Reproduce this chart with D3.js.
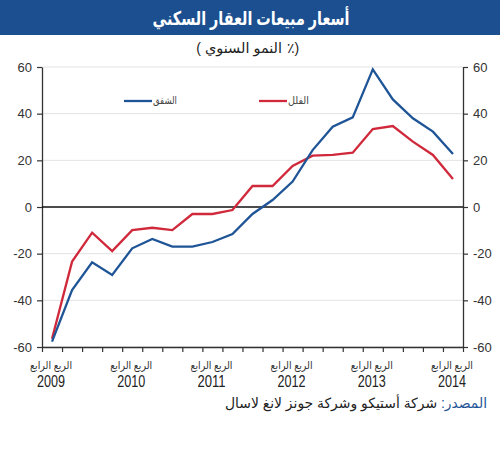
<!DOCTYPE html>
<html>
<head>
<meta charset="utf-8">
<script src="https://cdn.jsdelivr.net/npm/d3@7"></script>
<style>
  body { margin: 0; background: #fff; }
  svg { font-family: "Liberation Sans", Arial, "DejaVu Sans", sans-serif; direction: ltr; }
</style>
</head>
<body>
<svg width="500" height="450"></svg>
<script>
// quarterly data, Q4 2009 .. Q4 2014
const quarters = ["2009Q4", "2010Q1", "2010Q2", "2010Q3", "2010Q4", "2011Q1", "2011Q2",
  "2011Q3", "2011Q4", "2012Q1", "2012Q2", "2012Q3", "2012Q4", "2013Q1", "2013Q2",
  "2013Q3", "2013Q4", "2014Q1", "2014Q2", "2014Q3", "2014Q4"];
const apartments = [-57.7, -35.6, -23.7, -29.1, -17.7, -13.7, -17, -17, -15, -11.6, -3,
  3, 10.9, 24.4, 34.4, 38.4, 59, 46.1, 38, 32.3, 22.7];
const villas = [-56.5, -23.4, -11, -18.9, -9.9, -8.9, -9.9, -3, -3, -1.3, 9,
  9, 17.6, 22, 22.3, 23.3, 33.4, 34.7, 28, 22.3, 12];
const yTicks = [-60, -40, -20, 0, 20, 40, 60];
const yearLabels = ["2009", "2010", "2011", "2012", "2013", "2014"];
const quarterLabel = "الربع الرابع";

const svg = d3.select("svg");
const plotLeft = 42, plotRight = 463, plotTop = 67, plotBottom = 347;

const x = d3.scaleLinear().domain([0, quarters.length]).range([plotLeft, plotRight]);
const y = d3.scaleLinear().domain([-60, 60]).range([plotBottom, plotTop]);

// title bar
svg.append("rect").attr("x", 0).attr("y", 0).attr("width", 500).attr("height", 35)
  .attr("fill", "#1b4f8f");
svg.append("text").attr("x", 251).attr("y", 25).attr("text-anchor", "middle")
  .attr("fill", "#fff").attr("font-size", 19).attr("font-weight", "bold")
  .attr("textLength", 197).attr("lengthAdjust", "spacingAndGlyphs")
  .text("أسعار مبيعات العقار السكني");

// subtitle, split so the brackets sit the way they do in the original
const sub = svg.append("g").attr("fill", "#222").attr("font-size", 14);
sub.append("text").attr("x", 243.5).attr("y", 53).attr("text-anchor", "middle")
  .attr("textLength", 77).attr("lengthAdjust", "spacingAndGlyphs").text("النمو السنوي");
sub.append("text").attr("x", 201).attr("y", 53).attr("text-anchor", "end")
  .style("unicode-bidi", "bidi-override").style("direction", "ltr").text("(");
sub.append("text").attr("x", 287).attr("y", 53).attr("text-anchor", "start")
  .style("unicode-bidi", "bidi-override").style("direction", "ltr").text("٪)");

// grid
svg.append("g").selectAll("line").data(yTicks.filter(d => d !== 0)).join("line")
  .attr("x1", plotLeft).attr("x2", plotRight)
  .attr("y1", d => y(d)).attr("y2", d => y(d))
  .attr("stroke", "#e3e3e3").attr("stroke-width", 1);

// axes
function styleAxis(g) {
  g.select(".domain").attr("stroke", "#333").attr("stroke-width", 1.3);
  g.selectAll(".tick line").attr("stroke", "#333").attr("stroke-width", 1.2);
  g.selectAll(".tick text").attr("fill", "#333").attr("font-size", 13)
    .attr("font-family", "Liberation Sans, Arial, sans-serif");
}
const fmt = d => String(d);
svg.append("g").attr("transform", `translate(${plotLeft},0)`)
  .call(d3.axisLeft(y).tickValues(yTicks).tickFormat(fmt).tickSize(5).tickSizeOuter(0).tickPadding(5))
  .call(styleAxis);
svg.append("g").attr("transform", `translate(${plotRight},0)`)
  .call(d3.axisRight(y).tickValues(yTicks).tickFormat(fmt).tickSize(5).tickSizeOuter(0).tickPadding(5))
  .call(styleAxis);
svg.append("g").attr("transform", `translate(0,${plotBottom})`)
  .call(d3.axisBottom(x).tickValues(d3.range(0, quarters.length + 1)).tickFormat("")
    .tickSize(5).tickSizeOuter(0))
  .call(styleAxis);

// zero line
svg.append("line").attr("x1", plotLeft).attr("x2", plotRight)
  .attr("y1", y(0)).attr("y2", y(0))
  .attr("stroke", "#111").attr("stroke-width", 1.3);

// series
const line = d3.line().x((d, i) => x(i + 0.5)).y(d => y(d));
svg.append("path").datum(villas).attr("d", line)
  .attr("fill", "none").attr("stroke", "#d0293b").attr("stroke-width", 2.3);
svg.append("path").datum(apartments).attr("d", line)
  .attr("fill", "none").attr("stroke", "#1f5597").attr("stroke-width", 2.3);

// legend
const legend = [
  { name: "الشقق", color: "#1f5597", x0: 124, w: 24 },
  { name: "الفلل", color: "#d0293b", x0: 259, w: 21 }
];
const lg = svg.append("g").selectAll("g").data(legend).join("g");
lg.append("line").attr("x1", d => d.x0).attr("x2", d => d.x0 + 28)
  .attr("y1", 101).attr("y2", 101).attr("stroke", d => d.color).attr("stroke-width", 2.3);
lg.append("text").attr("x", d => d.x0 + 29 + d.w / 2).attr("y", 104).attr("text-anchor", "middle")
  .attr("font-size", 10).attr("fill", "#444")
  .attr("textLength", d => d.w).attr("lengthAdjust", "spacingAndGlyphs")
  .text(d => d.name);

// x labels under each Q4
const xl = svg.append("g").selectAll("g").data(yearLabels).join("g")
  .attr("transform", (d, i) => `translate(${x(i * 4 + 0.5) - 1},0)`);
xl.append("text").attr("y", 369).attr("text-anchor", "middle")
  .attr("font-size", 11).attr("fill", "#333")
  .attr("textLength", 42).attr("lengthAdjust", "spacingAndGlyphs").text(quarterLabel);
xl.append("text").attr("y", 387).attr("text-anchor", "middle")
  .attr("font-size", 16).attr("fill", "#222")
  .attr("textLength", 28).attr("lengthAdjust", "spacingAndGlyphs").text(d => d);

// source: one run so the colon falls to the left of the first word
const src = svg.append("text").attr("x", 356).attr("y", 408).attr("text-anchor", "middle")
  .attr("font-size", 14).attr("fill", "#222")
  .attr("textLength", 262).attr("lengthAdjust", "spacingAndGlyphs");
src.append("tspan").attr("fill", "#1f5597").text("المصدر:");
src.append("tspan").text("  شركة أستيكو وشركة جونز لانغ لاسال");
</script>
</body>
</html>
